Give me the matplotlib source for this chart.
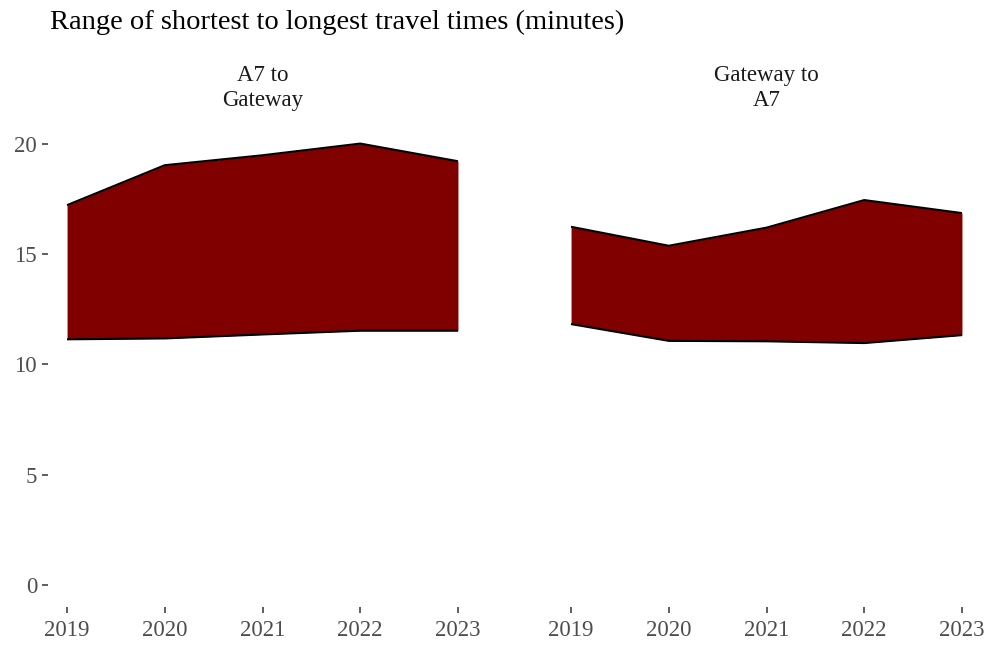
import matplotlib
matplotlib.use("Agg")
import matplotlib.pyplot as plt

years = [2019, 2020, 2021, 2022, 2023]
panels = ["A7 to\nGateway", "Gateway to\nA7"]
a7_gw_min = [11.13, 11.17, 11.35, 11.52, 11.52]
a7_gw_max = [17.21, 19.02, 19.47, 20.0, 19.2]
gw_a7_min = [11.82, 11.06, 11.04, 10.96, 11.32]
gw_a7_max = [16.23, 15.37, 16.19, 17.44, 16.85]
y_ticks = [0, 5, 10, 15, 20]
title = "Range of shortest to longest travel times (minutes)"

plt.rcParams['font.family'] = ['Liberation Serif', 'DejaVu Serif']

fig = plt.figure(figsize=(9.91, 6.53), dpi=100)
W, H = 991, 653
ybot, ytop = 607, 121.5
lefts = [47.5, 551.5]
pw = 430
data = [(a7_gw_min, a7_gw_max), (gw_a7_min, gw_a7_max)]
fill_col = "#800000"
grey = "#4d4d4d"

for i, (lo, hi) in enumerate(data):
    ax = fig.add_axes([lefts[i] / W, 1 - ybot / H, pw / W, (ybot - ytop) / H])
    ax.fill_between(years, lo, hi, color=fill_col, linewidth=0)
    ax.plot(years, hi, color="black", lw=1.5, solid_capstyle="butt")
    ax.plot(years, lo, color="black", lw=1.5, solid_capstyle="butt")
    ax.set_xlim(2019 - 0.2, 2023 + 0.2)
    ax.set_ylim(-1, 21)
    ax.set_xticks(years)
    ax.set_xticklabels([str(y) for y in years])
    ax.set_yticks(y_ticks)
    if i == 0:
        ax.set_yticklabels([str(v) for v in y_ticks])
    else:
        ax.tick_params(axis="y", left=False, labelleft=False)
    for s in ax.spines.values():
        s.set_visible(False)
    ax.tick_params(axis="both", length=4.5, width=1.1, color="#333333",
                   labelcolor=grey, labelsize=16.5)
    ax.tick_params(axis="x", pad=5)
    ax.tick_params(axis="y", pad=3)
    ax.set_facecolor("white")
    cx = (lefts[i] + pw / 2) / W
    fig.text(cx, 1 - 88 / H, panels[i], ha="center", va="center",
             fontsize=16.5, color="#1a1a1a", linespacing=1.2)

fig.text(50 / W, 1 - 22 / H, title, ha="left", va="center", fontsize=20.5, color="black")

fig.savefig("out.png", dpi=100, facecolor="white")
